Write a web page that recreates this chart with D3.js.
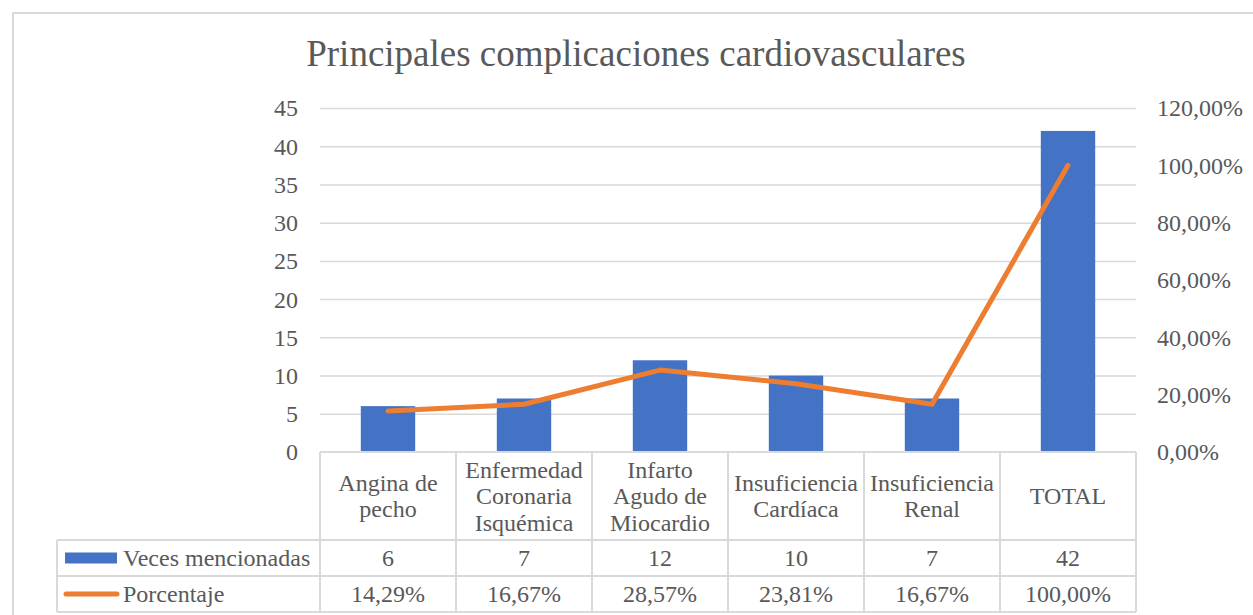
<!DOCTYPE html>
<html>
<head>
<meta charset="utf-8">
<script src="https://cdn.jsdelivr.net/npm/d3@7"></script>
<style>
  html, body { margin: 0; padding: 0; background: #fff; }
  svg text { font-family: "Liberation Serif", "Times New Roman", serif; fill: #595959; }
</style>
</head>
<body>
<svg id="chart" width="1253" height="615"></svg>
<script>
// data
const categories = ['Angina de pecho', 'Enfermedad Coronaria Isquémica', 'Infarto Agudo de Miocardio', 'Insuficiencia Cardíaca', 'Insuficiencia Renal', 'TOTAL'];
const categoryLines = [['Angina de', 'pecho'], ['Enfermedad', 'Coronaria', 'Isquémica'], ['Infarto', 'Agudo de', 'Miocardio'], ['Insuficiencia', 'Cardíaca'], ['Insuficiencia', 'Renal'], ['TOTAL']];
const veces = [6, 7, 12, 10, 7, 42];
const porcentaje = [0.1429, 0.1667, 0.2857, 0.2381, 0.1667, 1.0];
const leftTicks = [0, 5, 10, 15, 20, 25, 30, 35, 40, 45];
const rightTicks = [0, 0.2, 0.4, 0.6, 0.8, 1.0, 1.2];
const seriesNames = ['Veces mencionadas', 'Porcentaje'];

const title = 'Principales complicaciones cardiovasculares';
const blue = '#4472C4', orange = '#ED7D31', grid = '#d9d9d9';

const es = d3.formatLocale({ decimal: ',', thousands: '.', grouping: [3], currency: ['', '€'], percent: '%' });
const pct = es.format('.2%');

const plot = { left: 320, right: 1136, top: 108, bottom: 452 };
const table = { left: 57, headBottom: 540, row1Bottom: 576, row2Bottom: 612 };

const svg = d3.select('#chart');

// outer chart border (only top and left edges are in view)
svg.append('path')
    .attr('d', `M13,615 V13 H1253`)
    .attr('fill', 'none')
    .attr('stroke', grid)
    .attr('stroke-width', 2);

svg.append('text')
    .attr('x', 636)
    .attr('y', 66)
    .attr('text-anchor', 'middle')
    .style('font-size', '37px')
    .text(title);

const x = d3.scaleBand().domain(categories).range([plot.left, plot.right]).padding(0);
const y = d3.scaleLinear().domain([0, 45]).range([plot.bottom, plot.top]);
const y2 = d3.scaleLinear().domain([0, 1.2]).range([plot.bottom, plot.top]);

// gridlines
svg.append('g')
    .attr('transform', `translate(${plot.left},0)`)
    .call(d3.axisRight(y).tickValues(leftTicks.slice(1)).tickSize(plot.right - plot.left).tickFormat(''))
    .call((g) => g.select('.domain').remove())
    .call((g) => g.selectAll('line').attr('stroke', grid).attr('stroke-width', 1.5));

// left axis labels
svg.append('g')
    .attr('transform', `translate(${plot.left},0)`)
    .call(d3.axisLeft(y).tickValues(leftTicks).tickSize(0).tickPadding(22))
    .call((g) => g.select('.domain').remove())
    .call((g) => g.selectAll('text').style('font-size', '24px').attr('dy', '0.33em'));

// right axis labels
svg.append('g')
    .attr('transform', `translate(${plot.right},0)`)
    .call(d3.axisRight(y2).tickValues(rightTicks).tickSize(0).tickPadding(21).tickFormat(pct))
    .call((g) => g.select('.domain').remove())
    .call((g) => g.selectAll('text').style('font-size', '24px').attr('dy', '0.33em'));

// bars
const barW = x.bandwidth() * 0.4;
svg.append('g')
    .selectAll('rect')
    .data(categories)
    .join('rect')
    .attr('x', (d) => x(d) + (x.bandwidth() - barW) / 2)
    .attr('y', (d, i) => y(veces[i]))
    .attr('width', barW)
    .attr('height', (d, i) => y(0) - y(veces[i]))
    .attr('fill', blue);

// line
const line = d3.line()
    .x((d, i) => x(categories[i]) + x.bandwidth() / 2)
    .y((d) => y2(d));
svg.append('path')
    .datum(porcentaje)
    .attr('d', line)
    .attr('fill', 'none')
    .attr('stroke', orange)
    .attr('stroke-width', 5)
    .attr('stroke-linecap', 'round')
    .attr('stroke-linejoin', 'round');

// data table
const tg = svg.append('g');
function hline(x1, x2, yy) {
    tg.append('line').attr('x1', x1).attr('x2', x2).attr('y1', yy).attr('y2', yy)
        .attr('stroke', grid).attr('stroke-width', 2);
}
function vline(xx, y1, y2v) {
    tg.append('line').attr('x1', xx).attr('x2', xx).attr('y1', y1).attr('y2', y2v)
        .attr('stroke', grid).attr('stroke-width', 2);
}
hline(plot.left, plot.right, plot.bottom);
hline(table.left, plot.right, table.headBottom);
hline(table.left, plot.right, table.row1Bottom);
hline(table.left, plot.right, table.row2Bottom);
vline(table.left, table.headBottom, table.row2Bottom);
categories.forEach((c) => vline(x(c), plot.bottom, table.row2Bottom));
vline(plot.right, plot.bottom, table.row2Bottom);

// header labels
const lh = 26.5;
const headMid = (plot.bottom + table.headBottom) / 2;
categories.forEach((c, i) => {
    const lines = categoryLines[i];
    const t = tg.append('text')
        .attr('text-anchor', 'middle')
        .style('font-size', '24px');
    lines.forEach((s, k) => {
        t.append('tspan')
            .attr('x', x(c) + x.bandwidth() / 2)
            .attr('y', headMid + (k - (lines.length - 1) / 2) * lh + 8)
            .text(s);
    });
});

// value rows
const row1Mid = (table.headBottom + table.row1Bottom) / 2;
const row2Mid = (table.row1Bottom + table.row2Bottom) / 2;
tg.selectAll('text.v1')
    .data(veces)
    .join('text')
    .attr('class', 'v1')
    .attr('x', (d, i) => x(categories[i]) + x.bandwidth() / 2)
    .attr('y', row1Mid + 8)
    .attr('text-anchor', 'middle')
    .style('font-size', '24px')
    .text((d) => d);
tg.selectAll('text.v2')
    .data(porcentaje)
    .join('text')
    .attr('class', 'v2')
    .attr('x', (d, i) => x(categories[i]) + x.bandwidth() / 2)
    .attr('y', row2Mid + 8)
    .attr('text-anchor', 'middle')
    .style('font-size', '24px')
    .text((d) => pct(d));

// legend keys in the first column
tg.append('rect')
    .attr('x', 65).attr('y', row1Mid - 5.5)
    .attr('width', 52).attr('height', 11)
    .attr('fill', blue);
tg.append('line')
    .attr('x1', 66).attr('x2', 117)
    .attr('y1', row2Mid).attr('y2', row2Mid)
    .attr('stroke', orange).attr('stroke-width', 5).attr('stroke-linecap', 'round');
tg.append('text').attr('x', 123).attr('y', row1Mid + 8).style('font-size', '24px').text(seriesNames[0]);
tg.append('text').attr('x', 123).attr('y', row2Mid + 8).style('font-size', '24px').text(seriesNames[1]);
</script>
</body>
</html>
